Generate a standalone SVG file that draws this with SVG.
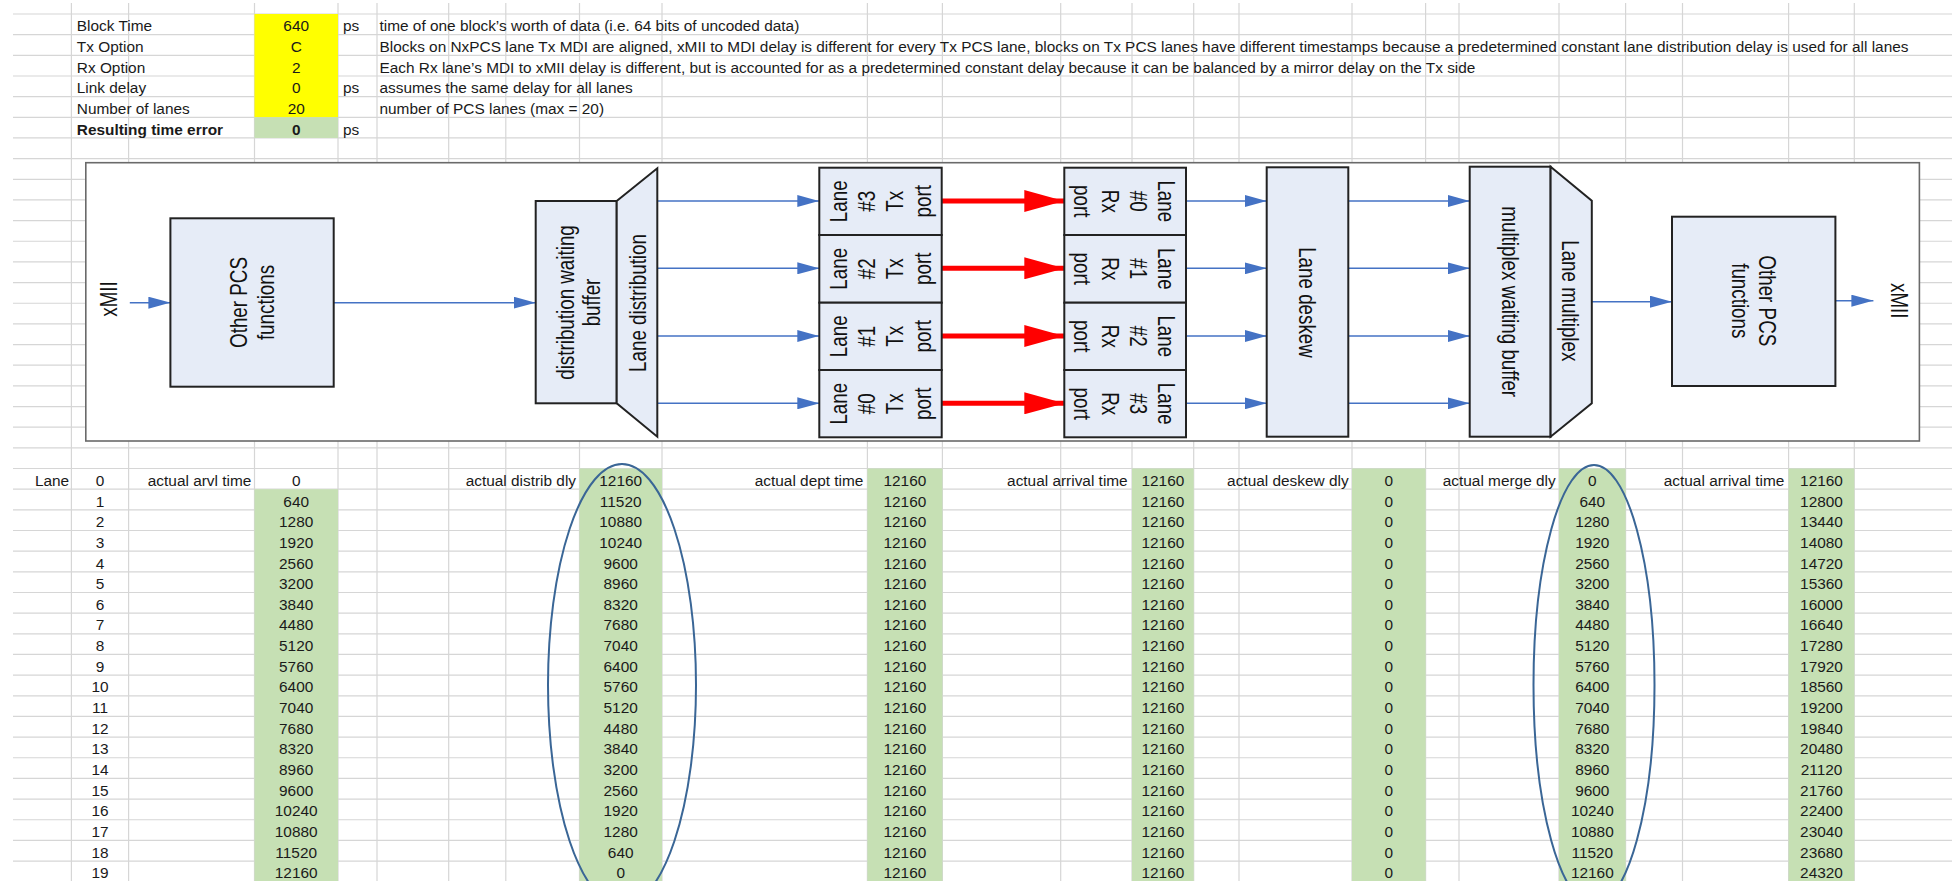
<svg xmlns="http://www.w3.org/2000/svg" width="1952" height="881" viewBox="0 0 1952 881">
<style>
.sheet{font-family:"Liberation Sans",Arial,sans-serif;font-size:15.4px;fill:#1a1a1a}
.c{text-anchor:middle}
.r{text-anchor:end}
.b{font-weight:bold}
.grid{stroke:#d6d6d6;stroke-width:1.2;fill:none}
.dg{font-family:"Liberation Sans",Arial,sans-serif;font-size:18.8px;fill:#111;text-anchor:middle}
.blk{fill:#e6ecf7;stroke:#222;stroke-width:2}
.blue{stroke:#4472c4;stroke-width:1.6;fill:none;marker-end:url(#ab)}
.red{stroke:#ff0000;stroke-width:5;fill:none;marker-end:url(#ar)}
.ell{fill:none;stroke:#3a6696;stroke-width:2}
.yel{fill:#ffff00}
.grn{fill:#c6e0b4}
</style>
<defs>
<marker id="ab" viewBox="0 0 22 12" refX="22" refY="6" markerWidth="22" markerHeight="12" markerUnits="userSpaceOnUse" orient="auto"><path d="M0,0 L22,6 L0,12 z" fill="#4472c4"/></marker>
<marker id="ar" viewBox="0 0 40 22" refX="40" refY="11" markerWidth="40" markerHeight="22" markerUnits="userSpaceOnUse" orient="auto"><path d="M0,0 L40,11 L0,22 z" fill="#ff0000"/></marker>
</defs>
<rect x="0" y="0" width="1952" height="881" fill="#ffffff"/>
<g id="gridlines">
<path class="grid" d="M13,14H1952M13,34.66H1952M13,55.32H1952M13,75.98H1952M13,96.64H1952M13,117.3H1952M13,137.96H1952M13,158.62H1952M13,179.28H1952M13,199.94H1952M13,220.6H1952M13,241.26H1952M13,261.92H1952M13,282.58H1952M13,303.24H1952M13,323.9H1952M13,344.56H1952M13,365.22H1952M13,385.88H1952M13,406.54H1952M13,427.2H1952M13,447.86H1952M13,468.52H1952M13,489.18H1952M13,509.84H1952M13,530.5H1952M13,551.16H1952M13,571.82H1952M13,592.48H1952M13,613.14H1952M13,633.8H1952M13,654.46H1952M13,675.12H1952M13,695.78H1952M13,716.44H1952M13,737.1H1952M13,757.76H1952M13,778.42H1952M13,799.08H1952M13,819.74H1952M13,840.4H1952M13,861.06H1952"/>
<path class="grid" d="M71.4,3V881M128.6,3V881M254.5,3V881M338,3V881M377,3V881M448.7,3V881M505.8,3V881M579.5,3V881M662,3V881M867.4,3V881M942.4,3V881M1060.7,3V881M1132,3V881M1193.7,3V881M1239,3V881M1352,3V881M1425.6,3V881M1459,3V881M1559,3V881M1625.6,3V881M1682.5,3V881M1788.6,3V881M1854.3,3V881"/>
</g>
<g id="cell-fills">
<rect class="yel" x="254.5" y="14" width="83.5" height="103.3"/>
<rect class="grn" x="254.5" y="117.3" width="83.5" height="20.66"/>
<rect class="grn" x="254.5" y="489.18" width="83.5" height="392"/>
<rect class="grn" x="579.5" y="468.52" width="82.5" height="413"/>
<rect class="grn" x="867.4" y="468.52" width="75" height="413"/>
<rect class="grn" x="1132" y="468.52" width="61.7" height="413"/>
<rect class="grn" x="1352" y="468.52" width="73.6" height="413"/>
<rect class="grn" x="1559" y="468.52" width="66.6" height="413"/>
<rect class="grn" x="1788.6" y="468.52" width="65.7" height="413"/>
</g>
<g id="parameters" class="sheet">
<text x="76.8" y="31.3">Block Time</text>
<text x="76.8" y="52">Tx Option</text>
<text x="76.8" y="72.6">Rx Option</text>
<text x="76.8" y="93.3">Link delay</text>
<text x="76.8" y="113.9">Number of lanes</text>
<text x="76.8" y="134.6" class="b">Resulting time error</text>
<text x="296.2" y="31.3" class="c">640</text>
<text x="296.2" y="52" class="c">C</text>
<text x="296.2" y="72.6" class="c">2</text>
<text x="296.2" y="93.3" class="c">0</text>
<text x="296.2" y="113.9" class="c">20</text>
<text x="296.2" y="134.6" class="c b">0</text>
<text x="343" y="31.3">ps</text>
<text x="343" y="93.3">ps</text>
<text x="343" y="134.6">ps</text>
<text x="379.5" y="31.3">time of one block’s worth of data (i.e. 64 bits of uncoded data)</text>
<text x="379.5" y="52">Blocks on NxPCS lane Tx MDI are aligned, xMII to MDI delay is different for every Tx PCS lane, blocks on Tx PCS lanes have different timestamps because a predetermined constant lane distribution delay is used for all lanes</text>
<text x="379.5" y="72.6">Each Rx lane’s MDI to xMII delay is different, but is accounted for as a predetermined constant delay because it can be balanced by a mirror delay on the Tx side</text>
<text x="379.5" y="93.3">assumes the same delay for all lanes</text>
<text x="379.5" y="113.9">number of PCS lanes (max = 20)</text>
</g>
<g id="frame"><rect x="85.8" y="162.7" width="1833.6" height="278.3" fill="#ffffff" stroke="#6a6a6a" stroke-width="1.6"/></g>
<g id="connectors">
<line class="blue" x1="129.8" y1="302.7" x2="170.4" y2="302.7"/>
<line class="blue" x1="333.7" y1="302.7" x2="535.7" y2="302.7"/>
<line class="blue" x1="657.3" y1="201" x2="819.3" y2="201"/>
<line class="blue" x1="657.3" y1="268.3" x2="819.3" y2="268.3"/>
<line class="blue" x1="657.3" y1="336" x2="819.3" y2="336"/>
<line class="blue" x1="657.3" y1="403.3" x2="819.3" y2="403.3"/>
<line class="red" x1="940" y1="201" x2="1064.3" y2="201"/>
<line class="red" x1="940" y1="268.3" x2="1064.3" y2="268.3"/>
<line class="red" x1="940" y1="336" x2="1064.3" y2="336"/>
<line class="red" x1="940" y1="403.3" x2="1064.3" y2="403.3"/>
<line class="blue" x1="1186" y1="201" x2="1266.7" y2="201"/>
<line class="blue" x1="1186" y1="268.3" x2="1266.7" y2="268.3"/>
<line class="blue" x1="1186" y1="336" x2="1266.7" y2="336"/>
<line class="blue" x1="1186" y1="403.3" x2="1266.7" y2="403.3"/>
<line class="blue" x1="1348.3" y1="201" x2="1469.7" y2="201"/>
<line class="blue" x1="1348.3" y1="268.3" x2="1469.7" y2="268.3"/>
<line class="blue" x1="1348.3" y1="336" x2="1469.7" y2="336"/>
<line class="blue" x1="1348.3" y1="403.3" x2="1469.7" y2="403.3"/>
<line class="blue" x1="1591.8" y1="301.7" x2="1672" y2="301.7"/>
<line class="blue" x1="1835.4" y1="300.7" x2="1873.4" y2="300.7"/>
</g>
<g id="xmii-in"><text class="dg" transform="translate(108.6,299) scale(1.25,1) rotate(-90)" y="6.6">xMII</text></g>
<g id="pcs-tx">
<rect class="blk" x="170.4" y="218.3" width="163.3" height="168.4"/>
<text class="dg" transform="translate(252.2,302.5) scale(1.3,1) rotate(-90)"><tspan x="0" y="-3.8">Other PCS</tspan><tspan x="0" y="16.9">functions</tspan></text>
</g>
<g id="dist-buffer">
<rect class="blk" x="535.7" y="201" width="81" height="202.3"/>
<text class="dg" transform="translate(578.7,302.5) scale(1.25,1) rotate(-90)"><tspan x="0" y="-3.8">distribution waiting</tspan><tspan x="0" y="17">buffer</tspan></text>
</g>
<g id="lane-dist">
<polygon class="blk" points="616.7,201 657.3,168.3 657.3,436.7 616.7,403.3"/>
<text class="dg" transform="translate(637.5,303) scale(1.3,1) rotate(-90)" y="6.6">Lane distribution</text>
</g>
<g id="tx-port-3"><rect class="blk" x="819.3" y="167.7" width="122.4" height="67.3"/>
<text class="dg" transform="translate(880.9,201.3) scale(1.3,1) rotate(-90)"><tspan x="0" y="-25.7">Lane</tspan><tspan x="0" y="-4.2">#3</tspan><tspan x="0" y="17.3">Tx</tspan><tspan x="0" y="38.8">port</tspan></text></g>
<g id="tx-port-2"><rect class="blk" x="819.3" y="235" width="122.4" height="67.7"/>
<text class="dg" transform="translate(880.9,268.8) scale(1.3,1) rotate(-90)"><tspan x="0" y="-25.7">Lane</tspan><tspan x="0" y="-4.2">#2</tspan><tspan x="0" y="17.3">Tx</tspan><tspan x="0" y="38.8">port</tspan></text></g>
<g id="tx-port-1"><rect class="blk" x="819.3" y="302.7" width="122.4" height="67.3"/>
<text class="dg" transform="translate(880.9,336.3) scale(1.3,1) rotate(-90)"><tspan x="0" y="-25.7">Lane</tspan><tspan x="0" y="-4.2">#1</tspan><tspan x="0" y="17.3">Tx</tspan><tspan x="0" y="38.8">port</tspan></text></g>
<g id="tx-port-0"><rect class="blk" x="819.3" y="370" width="122.4" height="67.3"/>
<text class="dg" transform="translate(880.9,403.7) scale(1.3,1) rotate(-90)"><tspan x="0" y="-25.7">Lane</tspan><tspan x="0" y="-4.2">#0</tspan><tspan x="0" y="17.3">Tx</tspan><tspan x="0" y="38.8">port</tspan></text></g>
<g id="rx-port-0"><rect class="blk" x="1064.3" y="167.7" width="121.7" height="67.3"/>
<text class="dg" transform="translate(1124.7,201.3) scale(1.3,1) rotate(90)"><tspan x="0" y="-25.7">Lane</tspan><tspan x="0" y="-4.2">#0</tspan><tspan x="0" y="17.3">Rx</tspan><tspan x="0" y="38.8">port</tspan></text></g>
<g id="rx-port-1"><rect class="blk" x="1064.3" y="235" width="121.7" height="67.7"/>
<text class="dg" transform="translate(1124.7,268.8) scale(1.3,1) rotate(90)"><tspan x="0" y="-25.7">Lane</tspan><tspan x="0" y="-4.2">#1</tspan><tspan x="0" y="17.3">Rx</tspan><tspan x="0" y="38.8">port</tspan></text></g>
<g id="rx-port-2"><rect class="blk" x="1064.3" y="302.7" width="121.7" height="67.3"/>
<text class="dg" transform="translate(1124.7,336.3) scale(1.3,1) rotate(90)"><tspan x="0" y="-25.7">Lane</tspan><tspan x="0" y="-4.2">#2</tspan><tspan x="0" y="17.3">Rx</tspan><tspan x="0" y="38.8">port</tspan></text></g>
<g id="rx-port-3"><rect class="blk" x="1064.3" y="370" width="121.7" height="67.3"/>
<text class="dg" transform="translate(1124.7,403.7) scale(1.3,1) rotate(90)"><tspan x="0" y="-25.7">Lane</tspan><tspan x="0" y="-4.2">#3</tspan><tspan x="0" y="17.3">Rx</tspan><tspan x="0" y="38.8">port</tspan></text></g>
<g id="deskew"><rect class="blk" x="1266.7" y="167.3" width="81.6" height="269.4"/>
<text class="dg" transform="translate(1307.3,302.5) scale(1.3,1) rotate(90)" y="6.6">Lane deskew</text></g>
<g id="mux-buffer"><rect class="blk" x="1469.7" y="166.7" width="80.9" height="270"/>
<text class="dg" transform="translate(1510.9,301.7) scale(1.3,1) rotate(90)" y="6.6">multiplex waiting buffer</text></g>
<g id="lane-mux"><polygon class="blk" points="1550.6,166.7 1591.8,200.7 1591.8,403.3 1550.6,436.7"/>
<text class="dg" transform="translate(1570.7,300.8) scale(1.3,1) rotate(90)" y="6.6">Lane multiplex</text></g>
<g id="pcs-rx"><rect class="blk" x="1672" y="216.7" width="163.4" height="169.3"/>
<text class="dg" transform="translate(1753.8,300.8) scale(1.3,1) rotate(90)"><tspan x="0" y="-3.8">Other PCS</tspan><tspan x="0" y="17">functions</tspan></text></g>
<g id="xmii-out"><text class="dg" transform="translate(1899,300.8) scale(1.25,1) rotate(90)" y="6.6">xMII</text></g>
<g id="table-headers" class="sheet">
<text class="r" x="69.2" y="485.8">Lane</text>
<text class="r" x="251.3" y="485.8">actual arvl time</text>
<text class="r" x="576" y="485.8">actual distrib dly</text>
<text class="r" x="863.4" y="485.8">actual dept time</text>
<text class="r" x="1127.7" y="485.8">actual arrival time</text>
<text class="r" x="1348.6" y="485.8">actual deskew dly</text>
<text class="r" x="1555.7" y="485.8">actual merge dly</text>
<text class="r" x="1784.4" y="485.8">actual arrival time</text>
</g>
<g id="lane-numbers" class="sheet"><text class="c"><tspan x="100" y="485.8">0</tspan><tspan x="100" y="506.5">1</tspan><tspan x="100" y="527.1">2</tspan><tspan x="100" y="547.8">3</tspan><tspan x="100" y="568.5">4</tspan><tspan x="100" y="589.1">5</tspan><tspan x="100" y="609.8">6</tspan><tspan x="100" y="630.4">7</tspan><tspan x="100" y="651.1">8</tspan><tspan x="100" y="671.8">9</tspan><tspan x="100" y="692.4">10</tspan><tspan x="100" y="713.1">11</tspan><tspan x="100" y="733.7">12</tspan><tspan x="100" y="754.4">13</tspan><tspan x="100" y="775.1">14</tspan><tspan x="100" y="795.7">15</tspan><tspan x="100" y="816.4">16</tspan><tspan x="100" y="837">17</tspan><tspan x="100" y="857.7">18</tspan><tspan x="100" y="878.4">19</tspan></text></g>
<g id="col-arvl" class="sheet"><text class="c"><tspan x="296.2" y="485.8">0</tspan><tspan x="296.2" y="506.5">640</tspan><tspan x="296.2" y="527.1">1280</tspan><tspan x="296.2" y="547.8">1920</tspan><tspan x="296.2" y="568.5">2560</tspan><tspan x="296.2" y="589.1">3200</tspan><tspan x="296.2" y="609.8">3840</tspan><tspan x="296.2" y="630.4">4480</tspan><tspan x="296.2" y="651.1">5120</tspan><tspan x="296.2" y="671.8">5760</tspan><tspan x="296.2" y="692.4">6400</tspan><tspan x="296.2" y="713.1">7040</tspan><tspan x="296.2" y="733.7">7680</tspan><tspan x="296.2" y="754.4">8320</tspan><tspan x="296.2" y="775.1">8960</tspan><tspan x="296.2" y="795.7">9600</tspan><tspan x="296.2" y="816.4">10240</tspan><tspan x="296.2" y="837">10880</tspan><tspan x="296.2" y="857.7">11520</tspan><tspan x="296.2" y="878.4">12160</tspan></text></g>
<g id="col-distrib" class="sheet"><text class="c"><tspan x="620.7" y="485.8">12160</tspan><tspan x="620.7" y="506.5">11520</tspan><tspan x="620.7" y="527.1">10880</tspan><tspan x="620.7" y="547.8">10240</tspan><tspan x="620.7" y="568.5">9600</tspan><tspan x="620.7" y="589.1">8960</tspan><tspan x="620.7" y="609.8">8320</tspan><tspan x="620.7" y="630.4">7680</tspan><tspan x="620.7" y="651.1">7040</tspan><tspan x="620.7" y="671.8">6400</tspan><tspan x="620.7" y="692.4">5760</tspan><tspan x="620.7" y="713.1">5120</tspan><tspan x="620.7" y="733.7">4480</tspan><tspan x="620.7" y="754.4">3840</tspan><tspan x="620.7" y="775.1">3200</tspan><tspan x="620.7" y="795.7">2560</tspan><tspan x="620.7" y="816.4">1920</tspan><tspan x="620.7" y="837">1280</tspan><tspan x="620.7" y="857.7">640</tspan><tspan x="620.7" y="878.4">0</tspan></text></g>
<g id="col-dept" class="sheet"><text class="c"><tspan x="904.9" y="485.8">12160</tspan><tspan x="904.9" y="506.5">12160</tspan><tspan x="904.9" y="527.1">12160</tspan><tspan x="904.9" y="547.8">12160</tspan><tspan x="904.9" y="568.5">12160</tspan><tspan x="904.9" y="589.1">12160</tspan><tspan x="904.9" y="609.8">12160</tspan><tspan x="904.9" y="630.4">12160</tspan><tspan x="904.9" y="651.1">12160</tspan><tspan x="904.9" y="671.8">12160</tspan><tspan x="904.9" y="692.4">12160</tspan><tspan x="904.9" y="713.1">12160</tspan><tspan x="904.9" y="733.7">12160</tspan><tspan x="904.9" y="754.4">12160</tspan><tspan x="904.9" y="775.1">12160</tspan><tspan x="904.9" y="795.7">12160</tspan><tspan x="904.9" y="816.4">12160</tspan><tspan x="904.9" y="837">12160</tspan><tspan x="904.9" y="857.7">12160</tspan><tspan x="904.9" y="878.4">12160</tspan></text></g>
<g id="col-arrival" class="sheet"><text class="c"><tspan x="1162.9" y="485.8">12160</tspan><tspan x="1162.9" y="506.5">12160</tspan><tspan x="1162.9" y="527.1">12160</tspan><tspan x="1162.9" y="547.8">12160</tspan><tspan x="1162.9" y="568.5">12160</tspan><tspan x="1162.9" y="589.1">12160</tspan><tspan x="1162.9" y="609.8">12160</tspan><tspan x="1162.9" y="630.4">12160</tspan><tspan x="1162.9" y="651.1">12160</tspan><tspan x="1162.9" y="671.8">12160</tspan><tspan x="1162.9" y="692.4">12160</tspan><tspan x="1162.9" y="713.1">12160</tspan><tspan x="1162.9" y="733.7">12160</tspan><tspan x="1162.9" y="754.4">12160</tspan><tspan x="1162.9" y="775.1">12160</tspan><tspan x="1162.9" y="795.7">12160</tspan><tspan x="1162.9" y="816.4">12160</tspan><tspan x="1162.9" y="837">12160</tspan><tspan x="1162.9" y="857.7">12160</tspan><tspan x="1162.9" y="878.4">12160</tspan></text></g>
<g id="col-deskew" class="sheet"><text class="c"><tspan x="1388.8" y="485.8">0</tspan><tspan x="1388.8" y="506.5">0</tspan><tspan x="1388.8" y="527.1">0</tspan><tspan x="1388.8" y="547.8">0</tspan><tspan x="1388.8" y="568.5">0</tspan><tspan x="1388.8" y="589.1">0</tspan><tspan x="1388.8" y="609.8">0</tspan><tspan x="1388.8" y="630.4">0</tspan><tspan x="1388.8" y="651.1">0</tspan><tspan x="1388.8" y="671.8">0</tspan><tspan x="1388.8" y="692.4">0</tspan><tspan x="1388.8" y="713.1">0</tspan><tspan x="1388.8" y="733.7">0</tspan><tspan x="1388.8" y="754.4">0</tspan><tspan x="1388.8" y="775.1">0</tspan><tspan x="1388.8" y="795.7">0</tspan><tspan x="1388.8" y="816.4">0</tspan><tspan x="1388.8" y="837">0</tspan><tspan x="1388.8" y="857.7">0</tspan><tspan x="1388.8" y="878.4">0</tspan></text></g>
<g id="col-merge" class="sheet"><text class="c"><tspan x="1592.3" y="485.8">0</tspan><tspan x="1592.3" y="506.5">640</tspan><tspan x="1592.3" y="527.1">1280</tspan><tspan x="1592.3" y="547.8">1920</tspan><tspan x="1592.3" y="568.5">2560</tspan><tspan x="1592.3" y="589.1">3200</tspan><tspan x="1592.3" y="609.8">3840</tspan><tspan x="1592.3" y="630.4">4480</tspan><tspan x="1592.3" y="651.1">5120</tspan><tspan x="1592.3" y="671.8">5760</tspan><tspan x="1592.3" y="692.4">6400</tspan><tspan x="1592.3" y="713.1">7040</tspan><tspan x="1592.3" y="733.7">7680</tspan><tspan x="1592.3" y="754.4">8320</tspan><tspan x="1592.3" y="775.1">8960</tspan><tspan x="1592.3" y="795.7">9600</tspan><tspan x="1592.3" y="816.4">10240</tspan><tspan x="1592.3" y="837">10880</tspan><tspan x="1592.3" y="857.7">11520</tspan><tspan x="1592.3" y="878.4">12160</tspan></text></g>
<g id="col-arrival-out" class="sheet"><text class="c"><tspan x="1821.5" y="485.8">12160</tspan><tspan x="1821.5" y="506.5">12800</tspan><tspan x="1821.5" y="527.1">13440</tspan><tspan x="1821.5" y="547.8">14080</tspan><tspan x="1821.5" y="568.5">14720</tspan><tspan x="1821.5" y="589.1">15360</tspan><tspan x="1821.5" y="609.8">16000</tspan><tspan x="1821.5" y="630.4">16640</tspan><tspan x="1821.5" y="651.1">17280</tspan><tspan x="1821.5" y="671.8">17920</tspan><tspan x="1821.5" y="692.4">18560</tspan><tspan x="1821.5" y="713.1">19200</tspan><tspan x="1821.5" y="733.7">19840</tspan><tspan x="1821.5" y="754.4">20480</tspan><tspan x="1821.5" y="775.1">21120</tspan><tspan x="1821.5" y="795.7">21760</tspan><tspan x="1821.5" y="816.4">22400</tspan><tspan x="1821.5" y="837">23040</tspan><tspan x="1821.5" y="857.7">23680</tspan><tspan x="1821.5" y="878.4">24320</tspan></text></g>
<g id="highlights">
<ellipse class="ell" cx="622" cy="685" rx="74" ry="221"/>
<ellipse class="ell" cx="1594" cy="685" rx="60.5" ry="220"/>
</g>
</svg>
